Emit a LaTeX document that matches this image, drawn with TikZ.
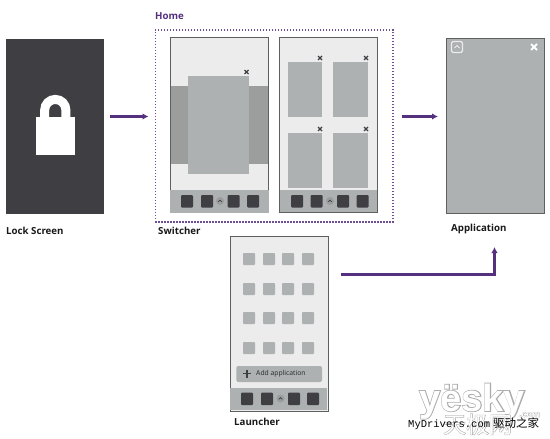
\documentclass[tikz,border=0pt]{standalone}
\usepackage{fontspec}
\setmainfont{Open Sans}
\newfontfamily\wmfont[FakeBold=4]{Liberation Sans Bold}
\newfontfamily\wmplain{Liberation Sans Bold}
\newfontfamily\wmcjk[FakeBold=3]{Noto Sans CJK SC}
\newfontfamily\wmcjkplain{Noto Sans CJK SC}
\newfontfamily\cjk{Noto Sans CJK SC}
\setmonofont{Liberation Mono}
\usetikzlibrary{calc,arrows.meta}
\definecolor{dk}{HTML}{3F3E42}
\definecolor{frm}{HTML}{5E6060}
\definecolor{lite}{HTML}{ECECEC}
\definecolor{gry}{HTML}{ADB1B2}
\definecolor{strip}{HTML}{9C9D9D}
\definecolor{pur}{HTML}{54307F}
\tikzset{
  phone/.style={draw=frm,line width=1.1pt,fill=lite,minimum width=98pt,minimum height=175pt,inner sep=0,anchor=north west},
  lbl/.style={font=\bfseries\fontsize{9.7}{11}\selectfont,text=black!90,inner sep=0,anchor=west},
  flow/.style={draw=pur,line width=2.2pt,-{Latex[length=6pt,width=6.5pt]}},
  dockicon/.style={fill=dk,rounded corners=1pt},
  tile/.style={fill=gry},
  xm/.style={draw=dk,line width=1.4pt}
}
\newcommand{\xmk}[3][dk]{\draw[xm,draw=#1] (#2-2,#3-2) -- (#2+2,#3+2) (#2-2,#3+2) -- (#2+2,#3-2);}
\newcommand{\ico}[2]{\fill[dockicon] (#1,#2) rectangle ++(12,12.5);}
\newcommand{\chev}[2]{\fill[strip] (#1,#2) circle (4); \draw[dk,line width=0.7pt] (#1-1.8,#2+0.8) -- (#1,#2-0.8) -- (#1+1.8,#2+0.8);}
\begin{document}
\begin{tikzpicture}[x=1pt,y=-1pt]
\useasboundingbox (0,0) rectangle (550,439);
\fill[white] (0,0) rectangle (550,439);
% lock screen
\node[fill=dk,minimum width=98pt,minimum height=175pt,inner sep=0,anchor=north west] (lock) at (6,39) {};
\draw[white,line width=9pt] (44.7,118) -- (44.7,110) arc[start angle=180,end angle=360,radius=10.6] -- (65.9,118);
\fill[white] (36,116.5) rectangle (74.5,155);
\node[lbl] (locklbl) at (6,231) {Lock Screen};
% home
\node[draw=pur!85,line width=1.6pt,dash pattern=on 1.5pt off 1.5pt,minimum width=237.5pt,minimum height=192pt,inner sep=0,anchor=north west] (home) at (154.5,29) {};
\node[lbl,text=pur] (homelbl) at (155,16) {Home};
% phone 1
\node[phone] (p1) at (170,37) {};
\fill[strip] (170.5,86) rectangle (267.5,163.5);
\fill[tile] (188,76) rectangle (249,173.5);
\xmk{246.5}{72}
\fill[gry] (169.5,190) rectangle (268.5,212.5);
\ico{181}{195}\ico{201}{195}\ico{227.5}{195}\ico{247}{195}
\chev{220}{201}
% phone 2
\node[phone] (p2) at (279,37) {};
\foreach \px in {287.5,333.2}{\foreach \py in {61.5,133}{\fill[tile] (\px,\py) rectangle ++(34.8,55);}}
\xmk{320}{58}\xmk{366}{58}\xmk{320}{129}\xmk{366}{129}
\fill[gry] (279.5,190) rectangle (376.5,211.5);
\ico{291}{195}\ico{310.5}{195}\ico{337}{195}\ico{356.5}{195}
\chev{330}{201}
\node[lbl] (switchlbl) at (158,231) {Switcher};
% application
\node[phone,fill=gry] (app) at (446,37.5) {};
\draw[lite,line width=1.2pt,rounded corners=1.5pt] (451.5,41.5) rectangle (462.5,52.5);
\draw[lite,line width=0.9pt] (454.5,48) -- (457,45.5) -- (459.5,48);
\draw[white,line width=1.8pt] (531,44) -- (537,50) (531,50) -- (537,44);
\node[lbl] (applbl) at (451,229) {Application};
% launcher
\node[phone] (launch) at (229.5,235.5) {};
\foreach \px in {243,263,282,302}{\foreach \py in {253,283,312,342}{\fill[tile,rounded corners=0.8pt] (\px,\py) rectangle ++(12,12);}}
\fill[gry,rounded corners=2pt] (236.3,366) rectangle (322,382);
\draw[dk,line width=1.5pt] (243,373.5) -- (251,373.5) (247,369.5) -- (247,377.5);
\node[font=\fontsize{6.8}{8}\selectfont,text=black!85,inner sep=0,anchor=west] (addapp) at (256,374) {Add application};
\fill[gry] (229.9,388) rectangle (327.1,410.4);
\ico{241}{392.5}\ico{261}{392.5}\ico{288}{392.5}\ico{307}{392.5}
\chev{280.5}{398.5}
\node[lbl] (launchlbl) at (234,422) {Launcher};
% connectors
\coordinate (lvl) at (0,116.5);
\coordinate (lowlvl) at (0,274.5);
\coordinate (appin) at (494.5,247);
\draw[flow,shorten <=6pt,shorten >=6pt] (lock.east |- lvl) -- (home.west |- lvl);
\draw[flow,shorten <=8pt,shorten >=8pt] (home.east |- lvl) -- (app.west |- lvl);
\draw[flow,shorten <=12pt] (launch.east |- lowlvl) -| (appin);
% watermark
\node[font=\wmfont\fontsize{38}{40}\selectfont,text=black!33,inner sep=0,anchor=base west] (wm1) at (419,411) {yësky};
\node[font=\wmplain\fontsize{38}{40}\selectfont,text=white,inner sep=0,anchor=base west] (wm2) at (419,411) {yësky};
\node[font=\wmfont\fontsize{9}{10}\selectfont,text=black!33,inner sep=0,anchor=base west] (wm3) at (519,417) {.com};
\node[font=\wmplain\fontsize{9}{10}\selectfont,text=white,inner sep=0,anchor=base west] (wm4) at (519,417) {.com};
\node[font=\wmcjk\fontsize{23}{25}\selectfont,text=black!33,inner sep=0,anchor=base west] (wm5) at (443,433) {天极网};
\node[font=\wmcjkplain\fontsize{23}{25}\selectfont,text=white,inner sep=0,anchor=base west] (wm6) at (443,433) {天极网};
\node[font=\ttfamily\fontsize{10.5}{12}\selectfont,text=black,inner sep=0,anchor=base west] (md) at (408,427) {MyDrivers.com};
\node[font=\cjk\fontsize{11.5}{12}\selectfont,text=black,inner sep=0,anchor=base west] (qd) at (493,427) {驱动之家};
\end{tikzpicture}
\end{document}
